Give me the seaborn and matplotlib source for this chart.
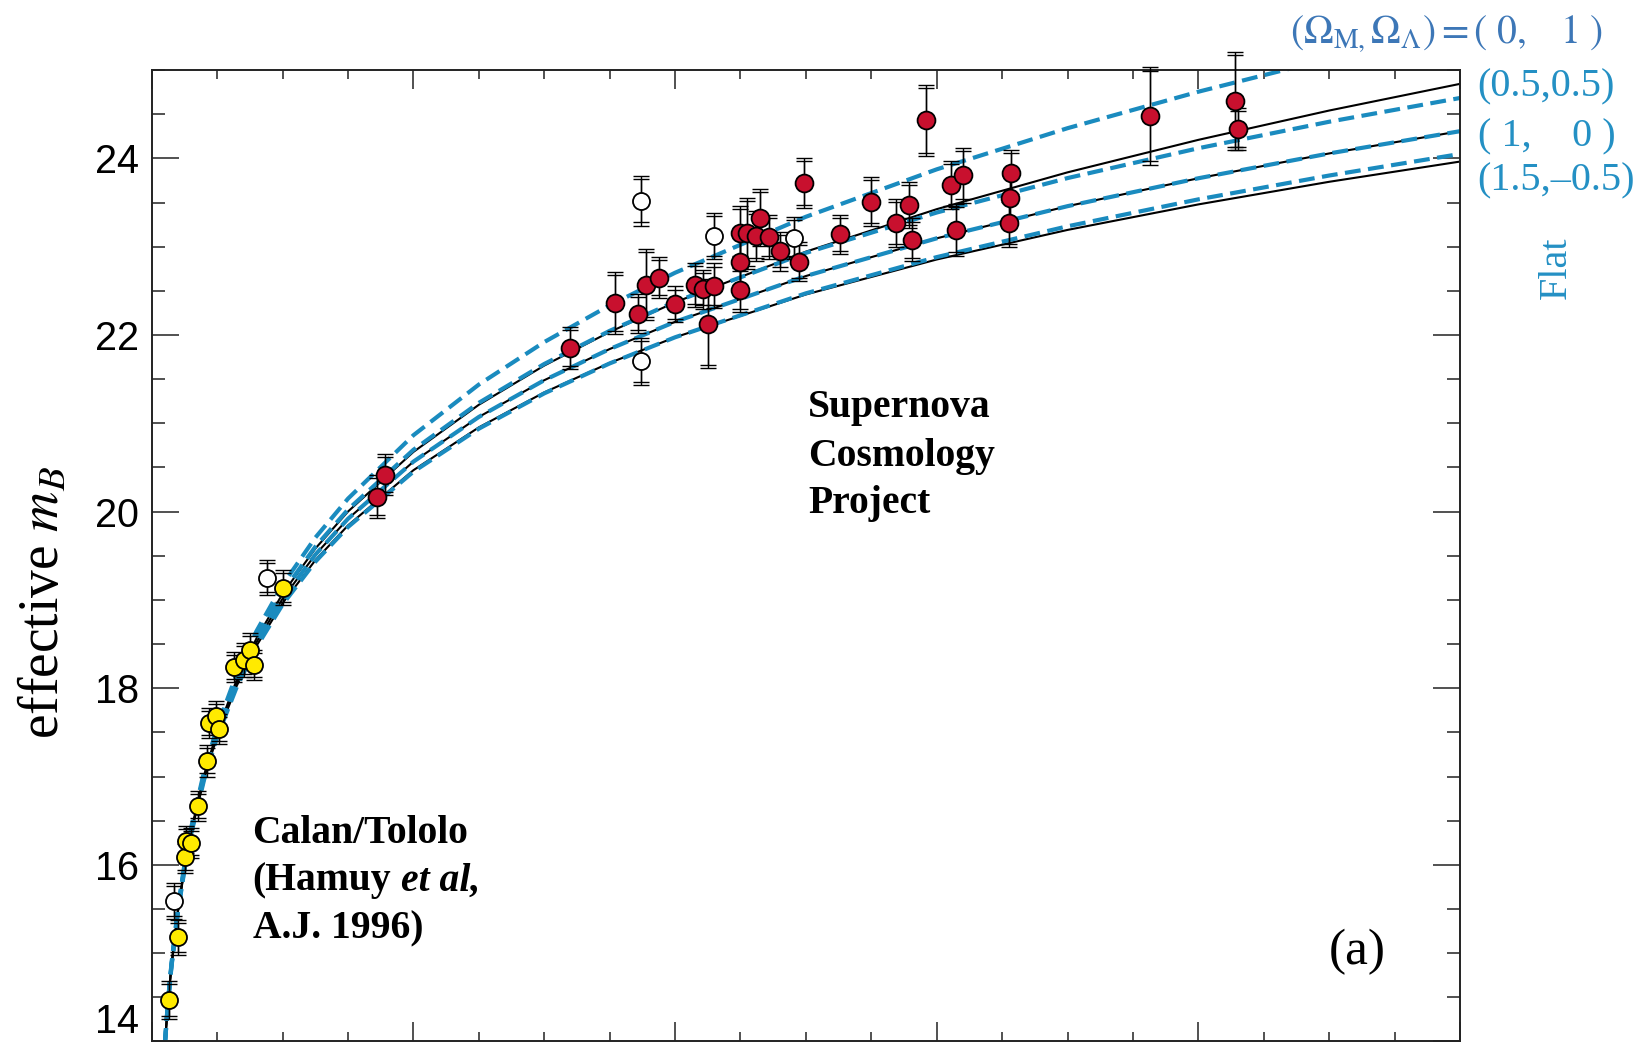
import numpy as np
import pandas as pd
import matplotlib
matplotlib.use("Agg")
import matplotlib.pyplot as plt
from matplotlib.ticker import MultipleLocator
import seaborn as sns

# ---------------- data ----------------
# theoretical m_B(z) curves
z_model = [0.008, 0.01, 0.0125, 0.015, 0.02, 0.025, 0.03, 0.04, 0.05, 0.065, 0.08,
           0.1, 0.125, 0.15, 0.2, 0.25, 0.3, 0.35, 0.4, 0.5, 0.6, 0.7, 0.8, 0.9, 1.0]
m_00 = [13.488, 13.975, 14.463, 14.860, 15.491, 15.981, 16.382, 17.017, 17.513, 18.098, 18.564,
        19.070, 19.581, 20.001, 20.676, 21.210, 21.654, 22.034, 22.370, 22.944, 23.425, 23.842,
        24.210, 24.542, 24.844]
m_10 = [13.483, 13.969, 14.456, 14.852, 15.480, 15.967, 16.366, 16.995, 17.485, 18.063, 18.520,
        19.015, 19.512, 19.919, 20.566, 21.072, 21.488, 21.841, 22.149, 22.668, 23.095, 23.459,
        23.775, 24.056, 24.308]
m_20 = [13.479, 13.964, 14.449, 14.844, 15.469, 15.954, 16.350, 16.974, 17.459, 18.029, 18.479,
        18.964, 19.449, 19.844, 20.469, 20.954, 21.350, 21.684, 21.974, 22.459, 22.855, 23.190,
        23.479, 23.735, 23.964]
m_flat_0_1 = [13.496, 13.986, 14.476, 14.876, 15.512, 16.008, 16.414, 17.059, 17.565, 18.166, 18.646,
              19.171, 19.705, 20.147, 20.865, 21.439, 21.920, 22.336, 22.705, 23.339, 23.876, 24.342,
              24.755, 25.129, 25.469]
m_flat_05_05 = [13.490, 13.977, 14.466, 14.864, 15.496, 15.987, 16.390, 17.026, 17.524, 18.112, 18.580,
                19.089, 19.602, 20.024, 20.700, 21.232, 21.672, 22.047, 22.376, 22.930, 23.387, 23.777,
                24.115, 24.415, 24.684]
m_flat_1_0 = m_10
m_flat_15_m05 = [13.477, 13.961, 14.446, 14.840, 15.464, 15.948, 16.343, 16.965, 17.449, 18.016, 18.465,
                 18.948, 19.432, 19.826, 20.452, 20.939, 21.339, 21.678, 21.974, 22.472, 22.882, 23.231,
                 23.536, 23.806, 24.050]

# Calan/Tololo supernovae (yellow)
z_ct = [0.0134, 0.0198, 0.0254, 0.0261, 0.0300, 0.0353, 0.0424, 0.0435, 0.0491, 0.0511,
        0.0626, 0.0707, 0.0751, 0.0781, 0.1000]
m_ct = [14.47, 15.18, 16.09, 16.27, 16.25, 16.67, 17.18, 17.61, 17.68, 17.54,
        18.24, 18.32, 18.43, 18.26, 19.14]
e_ct = [0.22, 0.20, 0.18, 0.17, 0.17, 0.17, 0.18, 0.17, 0.18, 0.17,
        0.17, 0.19, 0.20, 0.17, 0.20]

# Supernova Cosmology Project (red)
z_scp = [0.172, 0.178, 0.320, 0.354, 0.372, 0.378, 0.388, 0.400, 0.415, 0.421, 0.430, 0.425,
         0.4496, 0.455, 0.462, 0.450, 0.450, 0.465, 0.472, 0.480, 0.495, 0.4985, 0.526,
         0.5495, 0.569, 0.579, 0.581, 0.592, 0.611, 0.620, 0.615, 0.657, 0.656, 0.655,
         0.763, 0.828, 0.830]
m_scp = [20.17, 20.42, 21.85, 22.36, 22.24, 22.57, 22.65, 22.35, 22.57, 22.52, 22.56, 22.13,
         23.16, 23.15, 23.12, 22.83, 22.51, 23.33, 23.11, 22.95, 22.83, 23.72, 23.14,
         23.51, 23.27, 23.47, 23.08, 24.43, 23.70, 23.81, 23.19, 23.83, 23.55, 23.27,
         24.48, 24.65, 24.33]
e_scp = [0.24, 0.23, 0.24, 0.35, 0.22, 0.40, 0.23, 0.20, 0.25, 0.22, 0.25, 0.50,
         0.30, 0.40, 0.28, 0.35, 0.25, 0.32, 0.25, 0.22, 0.22, 0.28, 0.22,
         0.28, 0.27, 0.26, 0.24, 0.40, 0.27, 0.31, 0.29, 0.27, 0.28, 0.27,
         0.55, 0.56, 0.24]

# excluded supernovae (open circles)
z_open = [0.0172, 0.0878, 0.374, 0.374, 0.430, 0.491]
m_open = [15.59, 19.25, 23.52, 21.70, 23.12, 23.10]
e_open = [0.20, 0.20, 0.28, 0.27, 0.26, 0.24]

yticks = [14, 16, 18, 20, 22, 24]

# ---------------- style ----------------
sns.set_theme(style="ticks")
plt.rcParams["font.family"] = ["Liberation Serif", "DejaVu Serif"]
plt.rcParams["mathtext.fontset"] = "stix"

BLUE = "#1a8bbf"
BLUE_TXT = "#2490c4"
BLUE_TOP = "#3d77b7"
RED = "#c8102e"
YELLOW = "#ffea00"
DARK = "#222222"

fig = plt.figure(figsize=(16.41, 10.43), dpi=100)
ax = fig.add_axes([0.0925, 0.0015, 0.7972, 0.9313])

# model curves
for m in (m_00, m_10, m_20):
    sns.lineplot(x=z_model, y=m, ax=ax, color="black", linewidth=1.5,
                 sort=False, estimator=None, zorder=2)
for m in (m_flat_0_1, m_flat_05_05, m_flat_1_0, m_flat_15_m05):
    sns.lineplot(x=z_model, y=m, ax=ax, color=BLUE, linewidth=3.0,
                 linestyle=(0, (3.8, 1.8)), sort=False, estimator=None, zorder=2.5)


def draw_err(z, m, e):
    e = np.asarray(e)
    for err in (e, e - 0.035):
        eb = ax.errorbar(z, m, yerr=err, fmt="none", ecolor="black", elinewidth=1.0,
                         capsize=5.8, capthick=1.0, zorder=3)
        for art in eb.get_children():
            art.set_clip_on(False)


draw_err(z_ct, m_ct, e_ct)
draw_err(z_scp, m_scp, e_scp)
draw_err(z_open, m_open, e_open)

sns.scatterplot(x=z_open, y=m_open, ax=ax, s=150, color="white", edgecolor="black",
                linewidth=1.3, zorder=4, clip_on=False)
sns.scatterplot(x=z_ct, y=m_ct, ax=ax, s=150, color=YELLOW, edgecolor="black",
                linewidth=1.3, zorder=4, clip_on=False)
sns.scatterplot(x=z_scp, y=m_scp, ax=ax, s=165, color=RED, edgecolor="black",
                linewidth=1.3, zorder=4, clip_on=False)

# axes
ax.set_xlim(0, 1)
ax.set_ylim(14, 25)
ax.set_xlabel("")
ax.xaxis.set_major_locator(MultipleLocator(0.2))
ax.xaxis.set_minor_locator(MultipleLocator(0.05))
ax.set_yticks(yticks)
ax.yaxis.set_minor_locator(MultipleLocator(0.5))
ax.tick_params(axis="both", which="both", direction="in", top=True, right=True,
               bottom=True, left=True, color=DARK, width=1.1)
ax.tick_params(axis="y", which="major", length=19.5)
ax.tick_params(axis="y", which="minor", length=9.5)
ax.tick_params(axis="x", which="major", length=13.5)
ax.tick_params(axis="x", which="minor", length=6.5)
ax.tick_params(axis="x", labelbottom=False)
ax.tick_params(axis="y", labelsize=28.5, pad=9, labelcolor="black")
for lab in ax.get_yticklabels():
    lab.set_fontfamily(["Liberation Sans", "DejaVu Sans"])
ax.yaxis.get_major_ticks()[0].label1.set_verticalalignment("bottom")
for sp in ax.spines.values():
    sp.set_linewidth(1.4)
    sp.set_color(DARK)

ax.set_ylabel(r"effective $m_B$", fontsize=40, family="Liberation Serif", color="black")
ax.yaxis.label.set_verticalalignment("center")
ax.yaxis.set_label_coords(-0.082, 0.452)

# annotations
bold = dict(fontsize=28.5, fontweight="bold", family="Liberation Serif", color="black",
            ha="left", va="baseline")
ax.text(0.077, 16.25, "Calan/Tololo", **bold)
t2 = ax.text(0.077, 15.71, "(Hamuy", **bold)
ax.annotate("et al,", xy=(1, 0), xycoords=t2, xytext=(7, 0), textcoords="offset points",
            fontsize=28.5, fontweight="bold", fontstyle="italic", family="Liberation Serif",
            ha="left", va="bottom", color="black")
ax.text(0.077, 15.17, "A.J. 1996)", **bold)

ax.text(0.5016, 21.07, "Supernova", **bold)
ax.text(0.5016, 20.52, "Cosmology", **bold)
ax.text(0.5016, 19.98, "Project", **bold)

ax.text(0.9216, 15.01, "(a)", fontsize=37, family="Liberation Serif", ha="center",
        va="center", color="black")

ax.text(0.8704, 25.40, r"$(\Omega_{\rm M,}\Omega_\Lambda) = (\ 0,\ \ \ 1\ )$",
        fontsize=28.5, color=BLUE_TOP, ha="left", va="center")
rt = dict(fontsize=29, color=BLUE_TXT, family="Liberation Serif", ha="left", va="center")
ax.text(1.0135, 24.805, "(0.5,0.5)", **rt)
ax.text(1.0135, 24.24, "( 1,    0 )", **rt)
ax.text(1.0135, 23.74, "(1.5,\u20130.5)", **rt)
ax.text(1.0733, 22.76, "Flat", rotation=90, fontsize=29, color=BLUE_TXT,
        family="Liberation Serif", ha="center", va="center")

fig.savefig("out.png", dpi=100)
